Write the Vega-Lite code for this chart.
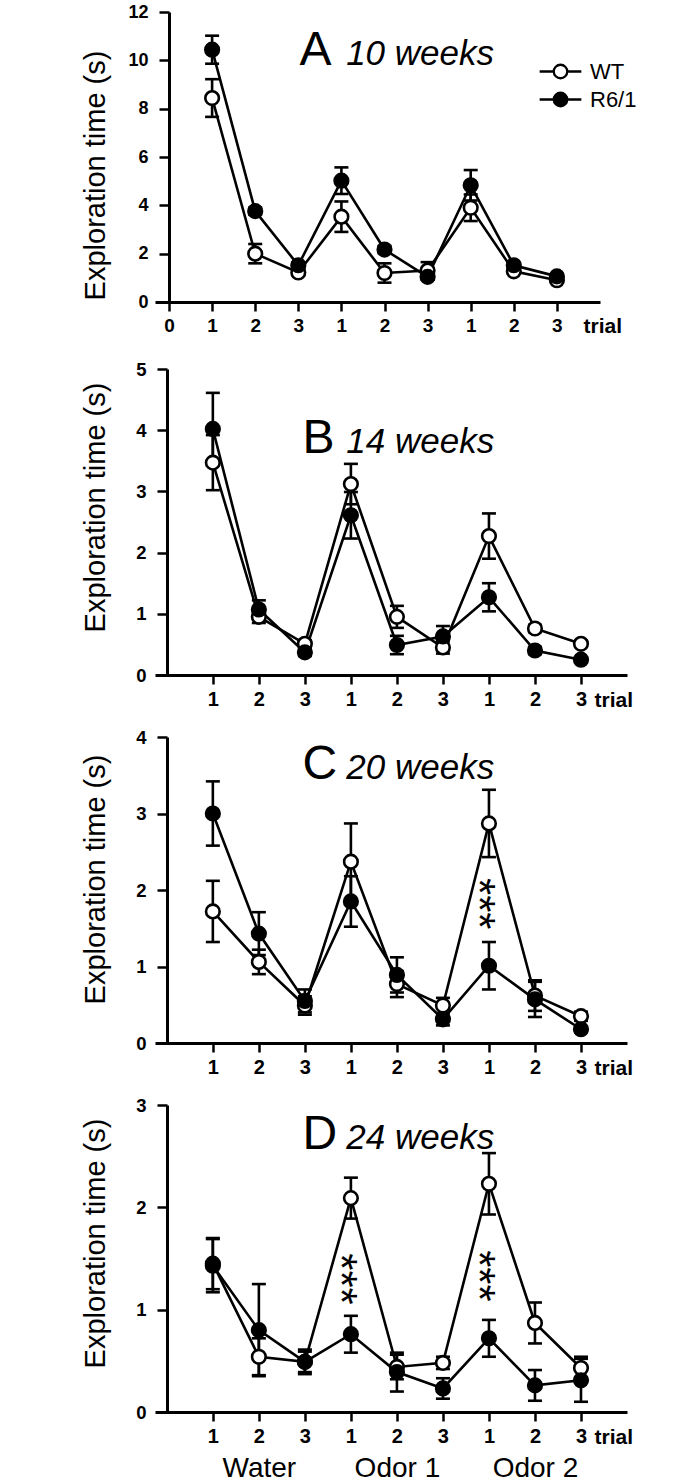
{
  "$schema": "https://vega.github.io/schema/vega-lite/v6.json",
  "background": "white",
  "padding": {"left": 80, "top": 3, "right": 5, "bottom": 0},
  "config": {
    "font": "Liberation Sans",
    "view": {"stroke": null},
    "axis": {
      "grid": false, "domainColor": "black", "domainWidth": 3, "tickColor": "black", "tickWidth": 2.5,
      "labelColor": "black", "labelFont": "Liberation Sans", "labelFontSize": 18, "labelFontWeight": "bold",
      "titleColor": "black", "titleFont": "Liberation Sans", "titleFontWeight": "normal", "labelFlush": false, "labelOverlap": false
    },
    "text": {"color": "black", "font": "Liberation Sans"}
  },
  "datasets": {
    "A": [
      {"trial": 1, "group": "WT", "mean": 8.44, "sem": 0.78},
      {"trial": 2, "group": "WT", "mean": 2.0, "sem": 0.4},
      {"trial": 3, "group": "WT", "mean": 1.22, "sem": 0.1},
      {"trial": 4, "group": "WT", "mean": 3.53, "sem": 0.63},
      {"trial": 5, "group": "WT", "mean": 1.2, "sem": 0.4},
      {"trial": 6, "group": "WT", "mean": 1.3, "sem": 0.35},
      {"trial": 7, "group": "WT", "mean": 3.9, "sem": 0.55},
      {"trial": 8, "group": "WT", "mean": 1.27, "sem": 0.1},
      {"trial": 9, "group": "WT", "mean": 0.9, "sem": 0.1},
      {"trial": 1, "group": "R6/1", "mean": 10.44, "sem": 0.58},
      {"trial": 2, "group": "R6/1", "mean": 3.76, "sem": 0.15},
      {"trial": 3, "group": "R6/1", "mean": 1.52, "sem": 0.12},
      {"trial": 4, "group": "R6/1", "mean": 5.02, "sem": 0.55},
      {"trial": 5, "group": "R6/1", "mean": 2.17, "sem": 0.15},
      {"trial": 6, "group": "R6/1", "mean": 1.04, "sem": 0.12},
      {"trial": 7, "group": "R6/1", "mean": 4.83, "sem": 0.63},
      {"trial": 8, "group": "R6/1", "mean": 1.52, "sem": 0.1},
      {"trial": 9, "group": "R6/1", "mean": 1.06, "sem": 0.1}
    ],
    "B": [
      {"trial": 1, "group": "WT", "mean": 3.47, "sem": 0.45},
      {"trial": 2, "group": "WT", "mean": 0.95, "sem": 0.1},
      {"trial": 3, "group": "WT", "mean": 0.51, "sem": 0.06},
      {"trial": 4, "group": "WT", "mean": 3.12, "sem": 0.33},
      {"trial": 5, "group": "WT", "mean": 0.95, "sem": 0.18},
      {"trial": 6, "group": "WT", "mean": 0.45, "sem": 0.1},
      {"trial": 7, "group": "WT", "mean": 2.27, "sem": 0.37},
      {"trial": 8, "group": "WT", "mean": 0.76, "sem": 0.06},
      {"trial": 9, "group": "WT", "mean": 0.51, "sem": 0.05},
      {"trial": 1, "group": "R6/1", "mean": 4.02, "sem": 0.59},
      {"trial": 2, "group": "R6/1", "mean": 1.07, "sem": 0.15},
      {"trial": 3, "group": "R6/1", "mean": 0.37, "sem": 0.06},
      {"trial": 4, "group": "R6/1", "mean": 2.61, "sem": 0.38},
      {"trial": 5, "group": "R6/1", "mean": 0.49, "sem": 0.15},
      {"trial": 6, "group": "R6/1", "mean": 0.63, "sem": 0.17},
      {"trial": 7, "group": "R6/1", "mean": 1.27, "sem": 0.23},
      {"trial": 8, "group": "R6/1", "mean": 0.4, "sem": 0.06},
      {"trial": 9, "group": "R6/1", "mean": 0.25, "sem": 0.04}
    ],
    "C": [
      {"trial": 1, "group": "WT", "mean": 1.72, "sem": 0.4},
      {"trial": 2, "group": "WT", "mean": 1.06, "sem": 0.16},
      {"trial": 3, "group": "WT", "mean": 0.49, "sem": 0.12},
      {"trial": 4, "group": "WT", "mean": 2.37, "sem": 0.5},
      {"trial": 5, "group": "WT", "mean": 0.77, "sem": 0.17},
      {"trial": 6, "group": "WT", "mean": 0.49, "sem": 0.1},
      {"trial": 7, "group": "WT", "mean": 2.87, "sem": 0.44},
      {"trial": 8, "group": "WT", "mean": 0.62, "sem": 0.2},
      {"trial": 9, "group": "WT", "mean": 0.35, "sem": 0.06},
      {"trial": 1, "group": "R6/1", "mean": 3.0, "sem": 0.42},
      {"trial": 2, "group": "R6/1", "mean": 1.43, "sem": 0.28},
      {"trial": 3, "group": "R6/1", "mean": 0.55, "sem": 0.15},
      {"trial": 4, "group": "R6/1", "mean": 1.85, "sem": 0.33},
      {"trial": 5, "group": "R6/1", "mean": 0.89, "sem": 0.23},
      {"trial": 6, "group": "R6/1", "mean": 0.31, "sem": 0.08},
      {"trial": 7, "group": "R6/1", "mean": 1.01, "sem": 0.31},
      {"trial": 8, "group": "R6/1", "mean": 0.57, "sem": 0.23},
      {"trial": 9, "group": "R6/1", "mean": 0.18, "sem": 0.04}
    ],
    "D": [
      {"trial": 1, "group": "WT", "mean": 1.45, "sem": 0.25},
      {"trial": 2, "group": "WT", "mean": 0.54, "sem": 0.18},
      {"trial": 3, "group": "WT", "mean": 0.49, "sem": 0.1},
      {"trial": 4, "group": "WT", "mean": 2.09, "sem": 0.2},
      {"trial": 5, "group": "WT", "mean": 0.44, "sem": 0.12},
      {"trial": 6, "group": "WT", "mean": 0.48, "sem": 0.06},
      {"trial": 7, "group": "WT", "mean": 2.23, "sem": 0.3},
      {"trial": 8, "group": "WT", "mean": 0.87, "sem": 0.2},
      {"trial": 9, "group": "WT", "mean": 0.43, "sem": 0.11},
      {"trial": 1, "group": "R6/1", "mean": 1.43, "sem": 0.26},
      {"trial": 2, "group": "R6/1", "mean": 0.8, "sem": 0.45},
      {"trial": 3, "group": "R6/1", "mean": 0.49, "sem": 0.12},
      {"trial": 4, "group": "R6/1", "mean": 0.76, "sem": 0.18},
      {"trial": 5, "group": "R6/1", "mean": 0.39, "sem": 0.19},
      {"trial": 6, "group": "R6/1", "mean": 0.23, "sem": 0.1},
      {"trial": 7, "group": "R6/1", "mean": 0.72, "sem": 0.18},
      {"trial": 8, "group": "R6/1", "mean": 0.26, "sem": 0.15},
      {"trial": 9, "group": "R6/1", "mean": 0.31, "sem": 0.21}
    ]
  },
  "spacing": 67,
  "bounds": "flush",
  "vconcat": [
    {
      "width": 445, "height": 290,
      "layer": [
        {
          "data": {"name": "A"},
          "encoding": {
            "x": {"field": "trial", "type": "quantitative", "scale": {"domain": [-0.325, 10], "nice": false, "zero": false},
              "axis": {"values": [0, 1, 2, 3, 4, 5, 6, 7, 8, 9], "labelExpr": "datum.value == 0 ? '0' : '' + ((datum.value - 1) % 3 + 1)", "tickSize": 9, "labelPadding": 5, "labelFontSize": 19,
                "title": "trial", "titleFontSize": 21, "titleFontWeight": "bold", "titleX": 428, "titleY": 30, "titleAlign": "left", "titleBaseline": "alphabetic"}},
            "y": {"field": "mean", "type": "quantitative", "scale": {"domain": [0, 12], "nice": false},
              "axis": {"values": [0, 2, 4, 6, 8, 10, 12], "format": "d", "offset": -14, "tickSize": 10, "labelPadding": 11, "labelFontSize": 18,
                "title": "Exploration time (s)", "titleFontSize": 29, "titleX": -74, "titleY": 163, "titleBaseline": "middle", "titleAngle": 270}}
          },
          "layer": [
            {"mark": {"type": "line", "color": "black", "strokeWidth": 2.6}, "encoding": {"detail": {"field": "group"}}},
            {"mark": {"type": "errorbar", "rule": {"color": "black", "opacity": 1, "strokeWidth": 2.6}, "ticks": {"color": "black", "opacity": 1, "size": 14, "thickness": 2.6}}, "encoding": {"yError": {"field": "sem"}}},
            {"mark": {"type": "point", "shape": "circle", "filled": true, "size": 185, "stroke": "black", "strokeWidth": 2.6, "opacity": 1},
              "encoding": {"fill": {"field": "group", "type": "nominal", "scale": {"domain": ["WT", "R6/1"], "range": ["white", "black"]},
                "legend": {"orient": "none", "legendX": 389, "legendY": 43, "title": null, "padding": 0, "rowPadding": 0,
                  "symbolType": "M-1.39,0L-0.45,0M0.45,0L1.39,0M0.45,0A0.45,0.45,0,1,1,-0.45,0A0.45,0.45,0,1,1,0.45,0Z",
                  "symbolSize": 900, "symbolStrokeColor": "black", "symbolStrokeWidth": 2.3, "labelFontSize": 22, "labelFont": "Liberation Sans",
                  "labelFontWeight": "normal", "labelColor": "black", "labelOffset": 13}}}}
          ]
        },
        {"data": {"values": [{}]}, "mark": {"type": "text", "text": "A", "fontSize": 48, "align": "left", "baseline": "alphabetic"},
          "encoding": {"x": {"datum": 3.03, "type": "quantitative"}, "y": {"datum": 9.79, "type": "quantitative"}}},
        {"data": {"values": [{}]}, "mark": {"type": "text", "text": "10 weeks", "fontSize": 35, "fontStyle": "italic", "align": "left", "baseline": "alphabetic"},
          "encoding": {"x": {"datum": 4.11, "type": "quantitative"}, "y": {"datum": 9.79, "type": "quantitative"}}}
      ]
    },
    {
      "spacing": 62,
      "bounds": "flush",
      "vconcat": [
        {
          "width": 472, "height": 306,
          "layer": [
            {
              "data": {"name": "B"},
              "encoding": {
                "x": {"field": "trial", "type": "quantitative", "scale": {"domain": [-0.257, 10], "nice": false, "zero": false},
                  "axis": {"values": [1, 2, 3, 4, 5, 6, 7, 8, 9], "labelExpr": "'' + ((datum.value - 1) % 3 + 1)", "tickSize": 9, "labelPadding": 5, "labelFontSize": 20,
                    "title": "trial", "titleFontSize": 21, "titleFontWeight": "bold", "titleX": 439, "titleY": 31, "titleAlign": "left", "titleBaseline": "alphabetic"}},
                "y": {"field": "mean", "type": "quantitative", "scale": {"domain": [0, 5], "nice": false},
                  "axis": {"values": [0, 1, 2, 3, 4, 5], "format": "d", "offset": -12, "tickSize": 10, "labelPadding": 11, "labelFontSize": 18.5,
                    "title": "Exploration time (s)", "titleFontSize": 29, "titleX": -72, "titleY": 138, "titleBaseline": "middle", "titleAngle": 270}}
              },
              "layer": [
                {"mark": {"type": "line", "color": "black", "strokeWidth": 2.6}, "encoding": {"detail": {"field": "group"}}},
                {"mark": {"type": "errorbar", "rule": {"color": "black", "opacity": 1, "strokeWidth": 2.6}, "ticks": {"color": "black", "opacity": 1, "size": 14, "thickness": 2.6}}, "encoding": {"yError": {"field": "sem"}}},
                {"mark": {"type": "point", "shape": "circle", "filled": true, "size": 185, "stroke": "black", "strokeWidth": 2.6, "opacity": 1},
                  "encoding": {"fill": {"field": "group", "type": "nominal", "scale": {"domain": ["WT", "R6/1"], "range": ["white", "black"]}}}}
              ]
            },
            {"data": {"values": [{}]}, "mark": {"type": "text", "text": "B", "fontSize": 48, "align": "left", "baseline": "alphabetic"},
              "encoding": {"x": {"datum": 2.95, "type": "quantitative"}, "y": {"datum": 3.63, "type": "quantitative"}}},
            {"data": {"values": [{}]}, "mark": {"type": "text", "text": "14 weeks", "fontSize": 35, "fontStyle": "italic", "align": "left", "baseline": "alphabetic"},
              "encoding": {"x": {"datum": 3.9, "type": "quantitative"}, "y": {"datum": 3.63, "type": "quantitative"}}}
          ]
        },
        {
          "width": 472, "height": 306,
          "layer": [
            {
              "data": {"name": "C"},
              "encoding": {
                "x": {"field": "trial", "type": "quantitative", "scale": {"domain": [-0.257, 10], "nice": false, "zero": false},
                  "axis": {"values": [1, 2, 3, 4, 5, 6, 7, 8, 9], "labelExpr": "'' + ((datum.value - 1) % 3 + 1)", "tickSize": 9, "labelPadding": 5, "labelFontSize": 20,
                    "title": "trial", "titleFontSize": 21, "titleFontWeight": "bold", "titleX": 439, "titleY": 31, "titleAlign": "left", "titleBaseline": "alphabetic"}},
                "y": {"field": "mean", "type": "quantitative", "scale": {"domain": [0, 4], "nice": false},
                  "axis": {"values": [0, 1, 2, 3, 4], "format": "d", "offset": -12, "tickSize": 10, "labelPadding": 11, "labelFontSize": 18.5,
                    "title": "Exploration time (s)", "titleFontSize": 29, "titleX": -72, "titleY": 142, "titleBaseline": "middle", "titleAngle": 270}}
              },
              "layer": [
                {"mark": {"type": "line", "color": "black", "strokeWidth": 2.6}, "encoding": {"detail": {"field": "group"}}},
                {"mark": {"type": "errorbar", "rule": {"color": "black", "opacity": 1, "strokeWidth": 2.6}, "ticks": {"color": "black", "opacity": 1, "size": 14, "thickness": 2.6}}, "encoding": {"yError": {"field": "sem"}}},
                {"mark": {"type": "point", "shape": "circle", "filled": true, "size": 185, "stroke": "black", "strokeWidth": 2.6, "opacity": 1},
                  "encoding": {"fill": {"field": "group", "type": "nominal", "scale": {"domain": ["WT", "R6/1"], "range": ["white", "black"]}}}}
              ]
            },
            {"data": {"values": [{}]}, "mark": {"type": "text", "text": "C", "fontSize": 48, "align": "left", "baseline": "alphabetic"},
              "encoding": {"x": {"datum": 2.95, "type": "quantitative"}, "y": {"datum": 3.45, "type": "quantitative"}}},
            {"data": {"values": [{}]}, "mark": {"type": "text", "text": "20 weeks", "fontSize": 35, "fontStyle": "italic", "align": "left", "baseline": "alphabetic"},
              "encoding": {"x": {"datum": 3.9, "type": "quantitative"}, "y": {"datum": 3.45, "type": "quantitative"}}},
            {"data": {"values": [{}]}, "mark": {"type": "text", "text": "***", "fontSize": 44, "angle": 90, "align": "center", "baseline": "middle", "dy": 12},
              "encoding": {"x": {"datum": 7, "type": "quantitative"}, "y": {"datum": 1.82, "type": "quantitative"}}}
          ]
        },
        {
          "width": 472, "height": 307,
          "resolve": {"axis": {"x": "independent"}},
          "layer": [
            {
              "layer": [
                {
                  "data": {"name": "D"},
                  "encoding": {
                    "x": {"field": "trial", "type": "quantitative", "scale": {"domain": [-0.257, 10], "nice": false, "zero": false},
                      "axis": {"values": [1, 2, 3, 4, 5, 6, 7, 8, 9], "labelExpr": "'' + ((datum.value - 1) % 3 + 1)", "tickSize": 9, "labelPadding": 5, "labelFontSize": 20,
                        "title": "trial", "titleFontSize": 21, "titleFontWeight": "bold", "titleX": 439, "titleY": 31, "titleAlign": "left", "titleBaseline": "alphabetic"}},
                    "y": {"field": "mean", "type": "quantitative", "scale": {"domain": [0, 3], "nice": false},
                      "axis": {"values": [0, 1, 2, 3], "format": "d", "offset": -12, "tickSize": 10, "labelPadding": 11, "labelFontSize": 18.5,
                        "title": "Exploration time  (s)", "titleFontSize": 29, "titleX": -72, "titleY": 138, "titleBaseline": "middle", "titleAngle": 270}}
                  },
                  "layer": [
                    {"mark": {"type": "line", "color": "black", "strokeWidth": 2.6}, "encoding": {"detail": {"field": "group"}}},
                    {"mark": {"type": "errorbar", "rule": {"color": "black", "opacity": 1, "strokeWidth": 2.6}, "ticks": {"color": "black", "opacity": 1, "size": 14, "thickness": 2.6}}, "encoding": {"yError": {"field": "sem"}}},
                    {"mark": {"type": "point", "shape": "circle", "filled": true, "size": 185, "stroke": "black", "strokeWidth": 2.6, "opacity": 1},
                      "encoding": {"fill": {"field": "group", "type": "nominal", "scale": {"domain": ["WT", "R6/1"], "range": ["white", "black"]}}}}
                  ]
                },
                {"data": {"values": [{}]}, "mark": {"type": "text", "text": "D", "fontSize": 48, "align": "left", "baseline": "alphabetic"},
                  "encoding": {"x": {"datum": 2.95, "type": "quantitative"}, "y": {"datum": 2.57, "type": "quantitative"}}},
                {"data": {"values": [{}]}, "mark": {"type": "text", "text": "24 weeks", "fontSize": 35, "fontStyle": "italic", "align": "left", "baseline": "alphabetic"},
                  "encoding": {"x": {"datum": 3.9, "type": "quantitative"}, "y": {"datum": 2.57, "type": "quantitative"}}},
                {"data": {"values": [{}]}, "mark": {"type": "text", "text": "***", "fontSize": 44, "angle": 90, "align": "center", "baseline": "middle", "dy": 12},
                  "encoding": {"x": {"datum": 4, "type": "quantitative"}, "y": {"datum": 1.3, "type": "quantitative"}}},
                {"data": {"values": [{}]}, "mark": {"type": "text", "text": "***", "fontSize": 44, "angle": 90, "align": "center", "baseline": "middle", "dy": 12},
                  "encoding": {"x": {"datum": 7, "type": "quantitative"}, "y": {"datum": 1.33, "type": "quantitative"}}}
              ]
            },
            {
              "data": {"name": "D"},
              "mark": {"type": "point", "opacity": 0},
              "encoding": {
                "x": {"field": "trial", "type": "quantitative",
                  "axis": {"orient": "bottom", "values": [2, 5, 8], "labelExpr": "datum.value == 2 ? 'Water' : datum.value == 5 ? 'Odor 1' : 'Odor 2'",
                    "domain": false, "ticks": false, "labelPadding": 42, "labelFontSize": 28, "labelFontWeight": "normal", "title": null}}
              }
            }
          ]
        }
      ]
    }
  ]
}
